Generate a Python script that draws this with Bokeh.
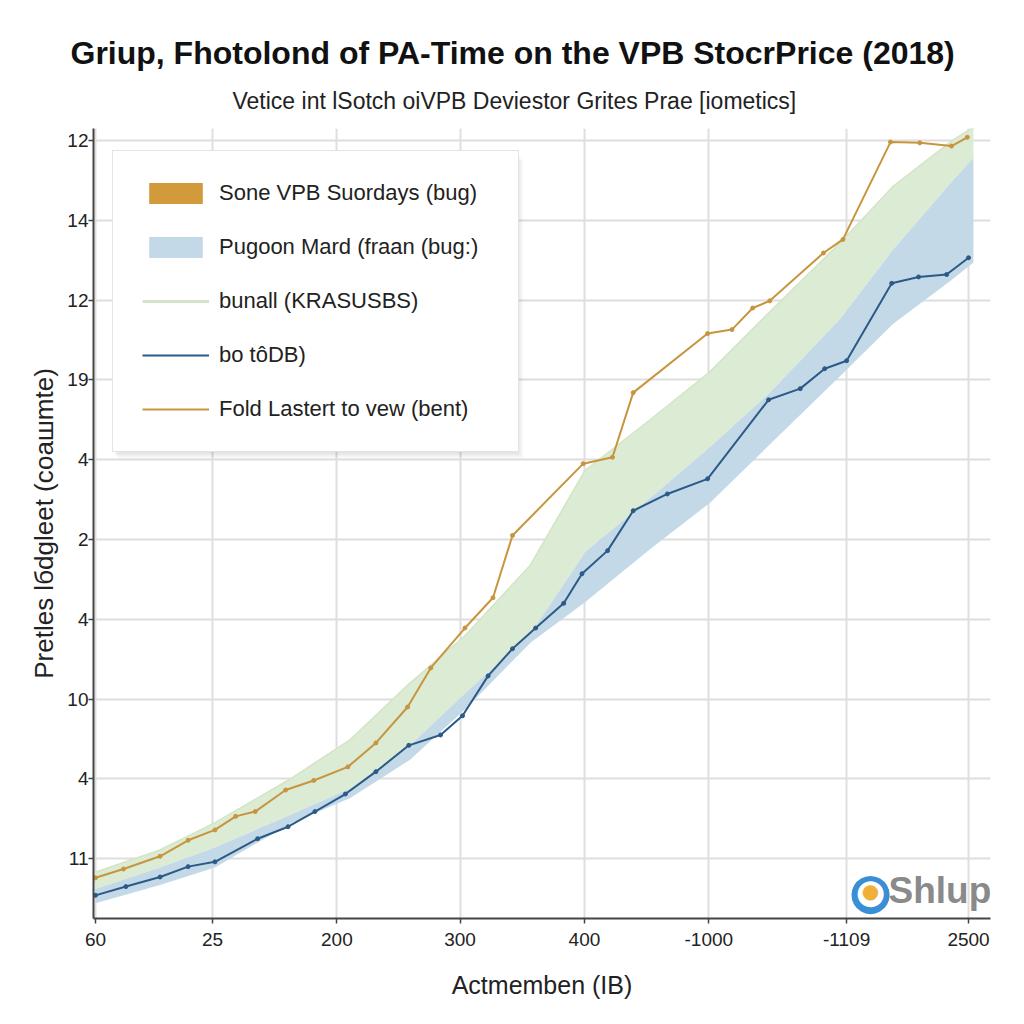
from bokeh.plotting import figure
from bokeh.models import FixedTicker, Legend, LegendItem, Title, Label, Range1d, BoxAnnotation
from bokeh.embed import file_html
from bokeh.resources import INLINE

TITLE = "Griup, Fhotolond of PA-Time on the VPB StocrPrice (2018)"
SUBTITLE = "Vetice int lSotch oiVPB Deviestor Grites Prae [iometics]"
X_LABEL = "Actmemben (IB)"
Y_LABEL = "Pretles lбdgleet (соашmte)"

X_TICK_POS = [0, 0.96, 1.98, 2.99, 4.01, 5.03, 6.16, 7.16]
X_TICK_LABELS = ["60", "25", "200", "300", "400", "-1000", "-1109", "2500"]
Y_TICK_POS = [0, 1, 2, 3, 4, 5, 6, 7, 8, 9]
Y_TICK_LABELS = ["11", "4", "10", "4", "2", "4", "19", "12", "14", "12"]

LEGEND_LABELS = [
    "Sone VPB Suordays (bug)",
    "Pugoon Mard (fraan (bug:)",
    "bunall (KRASUSBS)",
    "bo tôDB)",
    "Fold Lastert to vew (bent)",
]

# "Sone VPB Suordays" series: no values are drawn in the chart (legend key only)
SONE_X = [float("nan")]
SONE_Y1 = [float("nan")]
SONE_Y2 = [float("nan")]

# Gold line ("Fold Lastert to vew")
GOLD_X = [0, 0.23, 0.53, 0.76, 0.98, 1.15, 1.31, 1.56, 1.79, 2.07, 2.30, 2.56, 2.75,
          3.03, 3.26, 3.42, 4.00, 4.24, 4.41, 5.02, 5.22, 5.39, 5.53, 5.97, 6.13,
          6.52, 6.76, 7.02, 7.15]
GOLD_Y = [-0.24, -0.13, 0.03, 0.23, 0.36, 0.53, 0.59, 0.86, 0.98, 1.15, 1.45, 1.90, 2.39,
          2.89, 3.27, 4.05, 4.95, 5.03, 5.84, 6.58, 6.63, 6.90, 6.99, 7.59, 7.76,
          8.98, 8.97, 8.93, 9.04]

# Dark blue line ("bo tôDB")
BLUE_X = [0, 0.25, 0.53, 0.76, 0.98, 1.33, 1.58, 1.80, 2.05, 2.30, 2.57, 2.83, 3.01,
          3.22, 3.42, 3.61, 3.84, 3.99, 4.20, 4.41, 4.69, 5.02, 5.52, 5.78, 5.98,
          6.16, 6.53, 6.75, 6.98, 7.16]
BLUE_Y = [-0.46, -0.35, -0.23, -0.10, -0.04, 0.25, 0.40, 0.59, 0.81, 1.09, 1.42, 1.55, 1.79,
          2.29, 2.63, 2.89, 3.20, 3.57, 3.86, 4.36, 4.57, 4.76, 5.75, 5.89, 6.14,
          6.24, 7.21, 7.29, 7.32, 7.53]

# Bands
BAND_X = [0, 0.53, 0.98, 1.60, 2.09, 2.58, 3.03, 3.57, 4.02, 4.55, 5.04, 5.53, 6.11, 6.54, 7.01, 7.20]
GREEN_HI = [-0.18, 0.10, 0.44, 0.99, 1.48, 2.19, 2.78, 3.67, 4.86, 5.49, 6.09, 6.84, 7.71, 8.41, 8.97, 9.16]
BLUE_HI = [-0.38, -0.11, 0.14, 0.55, 0.88, 1.42, 2.07, 2.82, 3.85, 4.52, 5.16, 5.84, 6.77, 7.63, 8.46, 8.78]
BLUE_LO = [-0.56, -0.33, -0.11, 0.44, 0.76, 1.24, 1.87, 2.71, 3.22, 3.88, 4.46, 5.19, 6.05, 6.70, 7.24, 7.47]

GOLD = "#c8953f"
GOLD_FILL = "#d39a3c"
NAVY = "#2b5a87"
BAND_BLUE = "#c3d9e8"
BAND_GREEN = "#dcebd3"
LEG_GREEN = "#d3e5c6"
FONT = "Liberation Sans"

FRAME_H = 790

p = figure(frame_width=897, frame_height=FRAME_H, width=1016, height=1016,
           output_backend="svg", toolbar_location=None,
           x_range=Range1d(-0.016, 7.34), y_range=Range1d(-0.75, 9.15),
           min_border_left=93, min_border_right=26, min_border_top=128, min_border_bottom=98)
p.outline_line_color = None
p.background_fill_color = "white"
p.border_fill_color = "white"

# Titles
p.add_layout(Title(text=SUBTITLE, align="left", offset=139, text_font=FONT, text_font_size="23px",
                   text_font_style="normal", text_color="#222222", standoff=29), "above")
p.add_layout(Title(text=TITLE, align="left", offset=-23, text_font=FONT, text_font_size="32px",
                   text_font_style="bold", text_color="#111111", standoff=2), "above")

# Axes
for ax in (p.xaxis[0], p.yaxis[0]):
    ax.axis_line_color = "#444444"
    ax.axis_line_width = 2
    ax.major_tick_line_color = "#444444"
    ax.major_tick_line_width = 1.5
    ax.major_tick_out = 5
    ax.major_tick_in = 0
    ax.minor_tick_line_color = None
    ax.major_label_text_font = FONT
    ax.major_label_text_font_size = "19px"
    ax.major_label_text_color = "#222222"
    ax.axis_label_text_font = FONT
    ax.axis_label_text_font_style = "normal"
    ax.axis_label_text_color = "#222222"

p.xaxis.ticker = FixedTicker(ticks=X_TICK_POS)
p.xaxis.major_label_overrides = {v: t for v, t in zip(X_TICK_POS, X_TICK_LABELS)}
p.xaxis.axis_label = X_LABEL
p.xaxis.axis_label_text_font_size = "25px"
p.xaxis.major_label_standoff = 9
p.xaxis.axis_label_standoff = 22

p.yaxis.ticker = FixedTicker(ticks=Y_TICK_POS)
p.yaxis.major_label_overrides = {v: t for v, t in zip(Y_TICK_POS, Y_TICK_LABELS)}
p.yaxis.axis_label = Y_LABEL
p.yaxis.axis_label_text_font_size = "26px"
p.yaxis.major_label_standoff = 0
p.yaxis.axis_label_standoff = 5

p.grid.grid_line_color = "#dedede"
p.grid.grid_line_width = 2

# Bands
r_sone = p.varea(x=SONE_X, y1=SONE_Y1, y2=SONE_Y2, fill_color=GOLD_FILL)
r_green = p.line(x=BAND_X, y=GREEN_HI, line_color=LEG_GREEN, line_width=3)
p.varea(x=BAND_X, y1=BLUE_HI, y2=GREEN_HI, fill_color=BAND_GREEN, fill_alpha=1.0)
r_blue_band = p.varea(x=BAND_X, y1=BLUE_LO, y2=BLUE_HI, fill_color=BAND_BLUE, fill_alpha=1.0)

# Lines
r_navy = p.line(x=BLUE_X, y=BLUE_Y, line_color=NAVY, line_width=2)
p.scatter(x=BLUE_X, y=BLUE_Y, size=4, fill_color=NAVY, line_color=NAVY)
r_gold = p.line(x=GOLD_X, y=GOLD_Y, line_color=GOLD, line_width=2)
p.scatter(x=GOLD_X, y=GOLD_Y, size=4, fill_color=GOLD, line_color=GOLD)

LEG_W = 405
LEG_H = 2 * 28 + 5 * 26 + 4 * 28
LEG_TOP = FRAME_H - 26
# soft drop shadow behind the legend box
for k, a in ((6, 0.025), (4, 0.035), (2, 0.045)):
    p.add_layout(BoxAnnotation(left=19 + k, right=19 + LEG_W + k, top=LEG_TOP - k, bottom=LEG_TOP - LEG_H - k,
                               left_units="screen", right_units="screen",
                               top_units="screen", bottom_units="screen",
                               fill_color="black", fill_alpha=a, line_color=None))

legend = Legend(items=[
    LegendItem(label=LEGEND_LABELS[0], renderers=[r_sone]),
    LegendItem(label=LEGEND_LABELS[1], renderers=[r_blue_band]),
    LegendItem(label=LEGEND_LABELS[2], renderers=[r_green]),
    LegendItem(label=LEGEND_LABELS[3], renderers=[r_navy]),
    LegendItem(label=LEGEND_LABELS[4], renderers=[r_gold]),
], location=(19, LEG_TOP - LEG_H))
legend.glyph_width = 67
legend.glyph_height = 26
legend.label_height = 26
legend.label_width = LEG_W - 2 * 29 - 67 - 10
legend.spacing = 28
legend.padding = 29
legend.label_standoff = 10
legend.label_text_font = FONT
legend.label_text_font_size = "22px"
legend.label_text_color = "#222222"
legend.border_line_color = "#c8c8c8"
legend.border_line_width = 1
legend.background_fill_color = "white"
legend.background_fill_alpha = 1.0
p.add_layout(legend, "center")

# Logo watermark
p.add_layout(Label(x=777, y=28, x_units="screen", y_units="screen", text="●",
                   text_color="#3a8fd4", text_font="DejaVu Sans", text_font_size="50px",
                   text_baseline="middle", text_align="center"))
p.add_layout(Label(x=777, y=28, x_units="screen", y_units="screen", text="●",
                   text_color="white", text_font="DejaVu Sans", text_font_size="34px",
                   text_baseline="middle", text_align="center"))
p.add_layout(Label(x=777, y=28, x_units="screen", y_units="screen", text="●",
                   text_color="#efb03a", text_font="DejaVu Sans", text_font_size="20px",
                   text_baseline="middle", text_align="center"))
p.add_layout(Label(x=795, y=28, x_units="screen", y_units="screen", text="Shlup",
                   text_color="#8a8a8a", text_font=FONT, text_font_style="bold",
                   text_font_size="37px", text_baseline="middle", text_align="left"))

open("out.html", "w").write(file_html(p, INLINE))
